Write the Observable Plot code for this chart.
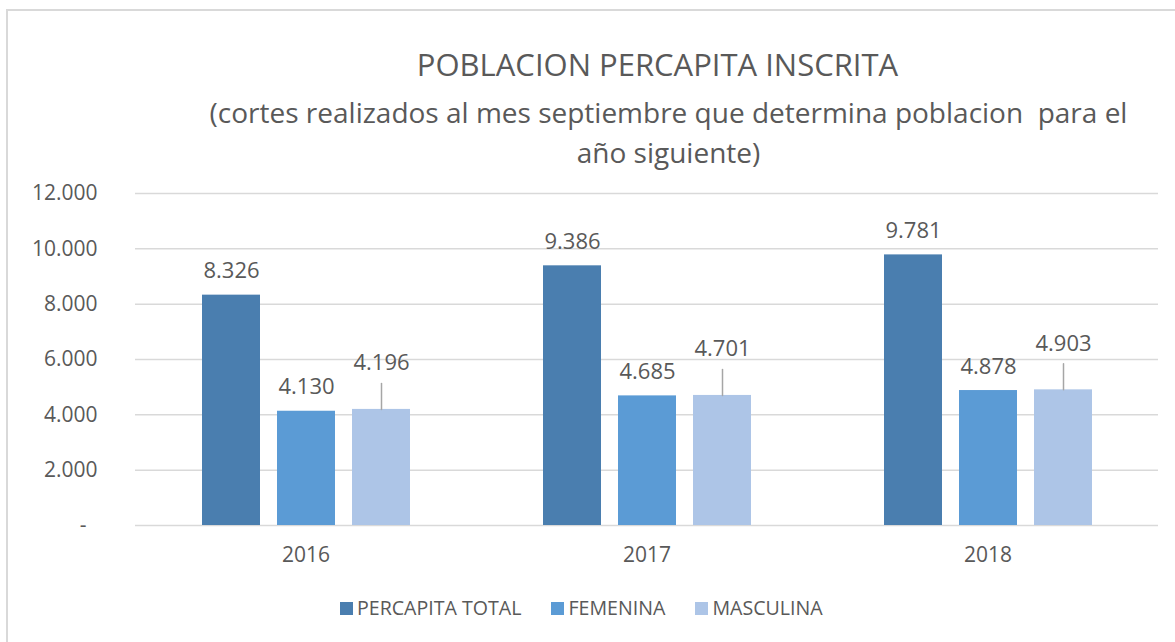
<!DOCTYPE html>
<html><head><meta charset="utf-8">
<script src="https://cdn.jsdelivr.net/npm/d3@7"></script>
<script src="https://cdn.jsdelivr.net/npm/@observablehq/plot@0.6"></script>
<style>
html,body{margin:0;padding:0;background:#fff;overflow:hidden;}
#wrap{position:relative;width:1175px;height:642px;overflow:hidden;font-family:"Open Sans",sans-serif;color:#595959;background:#fff;}
#frame{position:absolute;left:6px;top:9px;width:1200px;height:700px;border:2px solid #d9d9d9;box-sizing:border-box;}
#title{position:absolute;top:44px;left:150px;width:1015px;text-align:center;font-size:31px;line-height:40px;white-space:nowrap;}
#subtitle{position:absolute;top:92px;left:161px;width:1015px;text-align:center;font-size:28px;line-height:40px;white-space:nowrap;}
#chart{position:absolute;left:0;top:170px;}
#legend{position:absolute;top:596px;left:340px;display:flex;align-items:center;font-size:19.6px;line-height:24px;white-space:nowrap;}
#legend .it{display:flex;align-items:center;}
#legend .sw{width:13px;height:13px;margin-right:4px;}
</style>
</head><body>
<div id="wrap">
  <div id="frame"></div>
  <div id="title"></div>
  <div id="subtitle"></div>
  <div id="chart"></div>
  <div id="legend"></div>
</div>
<script>
const titleText = "POBLACION PERCAPITA INSCRITA";
const subtitleLines = ["(cortes realizados al mes septiembre que determina poblacion\u00a0 para el", "año siguiente)"];
const years = ["2016", "2017", "2018"];
const series = ["PERCAPITA TOTAL", "FEMENINA", "MASCULINA"];
const percapitaTotal = [8326, 9386, 9781];
const femenina = [4130, 4685, 4878];
const masculina = [4196, 4701, 4903];
const colors = ["#4a7eaf", "#5b9bd5", "#adc5e7"];
const yTicks = [0, 2000, 4000, 6000, 8000, 10000, 12000];

document.getElementById("title").textContent = titleText;
document.getElementById("subtitle").innerHTML = subtitleLines.map(s => `<div>${s}</div>`).join("");

const seriesValues = [percapitaTotal, femenina, masculina];
const data = years.flatMap((yr, i) => series.map((s, j) => ({year: yr, serie: s, value: seriesValues[j][i]})));

const fmt = v => v === 0 ? "-\u00a0\u00a0" : d3.format(",")(v).replace(/,/g, ".");
const font = "'Open Sans', sans-serif";

const leaderShape = {draw(ctx, l) { ctx.moveTo(0, 0); ctx.lineTo(0, -l); }};

const masc = data.filter(d => d.serie === "MASCULINA");
const others = data.filter(d => d.serie !== "MASCULINA");

const chart = Plot.plot({
  width: 1175,
  height: 400,
  marginLeft: 135,
  marginRight: 17,
  marginTop: 23,
  marginBottom: 45,
  style: {fontFamily: font, fontSize: "21px", color: "#595959", background: "transparent", overflow: "visible"},
  fx: {domain: years, padding: 0, label: null, tickSize: 0, tickPadding: 22, axis: "bottom"},
  x: {domain: series, paddingInner: 0.23, paddingOuter: 0.86, axis: null},
  y: {domain: [0, 12000], ticks: yTicks, tickFormat: fmt, tickSize: 0, tickPadding: 38, label: null},
  color: {domain: series, range: colors},
  marks: [
    Plot.ruleY(yTicks, {stroke: "#d9d9d9", strokeWidth: 1.5}),
    Plot.barY(data, {fx: "year", x: "serie", y: "value", fill: "serie"}),
    Plot.text(others, {fx: "year", x: "serie", y: "value", text: d => fmt(d.value), dy: -24, fill: "#595959", fontSize: 22}),
    Plot.text(masc, {fx: "year", x: "serie", y: "value", text: d => fmt(d.value), dy: -46, fill: "#595959", fontSize: 22}),
    Plot.vector(masc, {fx: "year", x: "serie", y: "value", length: 26, rotate: 0, anchor: "start", stroke: "#a6a6a6", strokeWidth: 1.5, shape: leaderShape})
  ]
});
document.getElementById("chart").appendChild(chart);

const legend = document.getElementById("legend");
series.forEach((s, i) => {
  const it = document.createElement("div");
  it.className = "it";
  it.style.marginRight = "30px";
  it.innerHTML = `<div class="sw" style="background:${colors[i]}"></div><span>${s}</span>`;
  legend.appendChild(it);
});
</script>
</body></html>
